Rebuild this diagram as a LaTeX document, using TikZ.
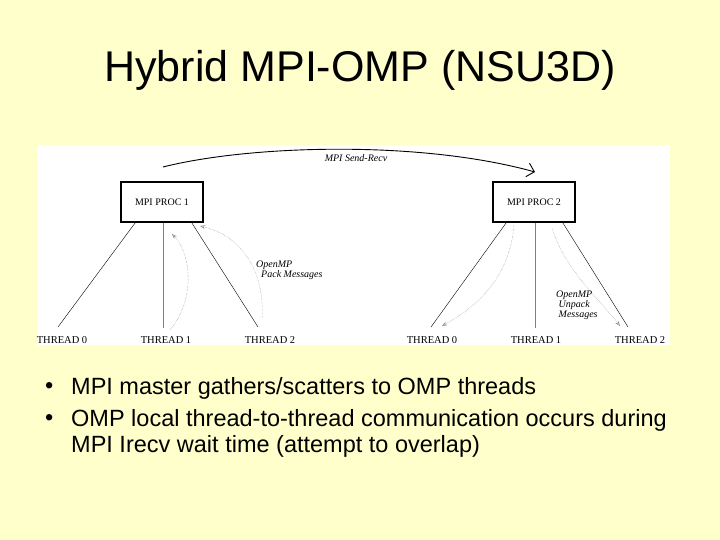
\documentclass[tikz,border=0pt]{standalone}
\usepackage{fontspec}
\usetikzlibrary{arrows.meta}
\setmainfont{Liberation Sans}
\newfontfamily\serif{Liberation Serif}
\begin{document}
\begin{tikzpicture}[x=1pt,y=-1pt,
 pbox/.style={draw,line width=1.6pt,fill=white,minimum width=82pt,minimum height=40pt,font=\serif\fontsize{10}{11}\selectfont},
 thr/.style={font=\serif\fontsize{10.5}{11}\selectfont,inner sep=0pt},
 lab/.style={font=\serif\itshape\fontsize{10}{11}\selectfont,align=left,inner sep=0pt},
 dots/.style={densely dotted,gray,->,>={Stealth[open,length=5pt]}},
 bul/.style={font=\fontsize{23.5}{26}\selectfont,anchor=west,inner sep=0pt,align=left}]
\fill[fill={rgb,255:red,255;green,255;blue,204}] (0,0) rectangle (720,540);
\useasboundingbox (0,0) rectangle (720,540);
\fill[white] (37,145) rectangle (670,345);
\node[font=\fontsize{43}{48}\selectfont] (title) at (360,70) {Hybrid MPI-OMP (NSU3D)};
\node[pbox] (p1) at (162,202) {MPI PROC 1};
\node[pbox] (p2) at (534,202) {MPI PROC 2};
\node[thr] (a0) at (62,340) {THREAD 0};
\node[thr] (a1) at (166,340) {THREAD 1};
\node[thr] (a2) at (270,340) {THREAD 2};
\node[thr] (b0) at (432,340) {THREAD 0};
\node[thr] (b1) at (536,340) {THREAD 1};
\node[thr] (b2) at (640,340) {THREAD 2};
\coordinate (a0t) at (58,327); \coordinate (a1t) at (163,328); \coordinate (a2t) at (258,327);
\coordinate (b0t) at (431,327); \coordinate (b1t) at (535,328); \coordinate (b2t) at (628,327);
\draw (p1.south west)++(15,0) -- (a0t);
\draw[gray] (p1.south)++(1,0) -- (a1t);
\draw (p1.south east)++(-12,0) -- (a2t);
\draw (p2.south west)++(14,0) -- (b0t);
\draw[gray] (p2.south)++(1,0) -- (b1t);
\draw (p2.south east)++(-13,0) -- (b2t);
\coordinate (s1) at (170,330); \coordinate (e1) at (172,234);
\coordinate (s2) at (262,318); \coordinate (e2) at (200,226);
\coordinate (s3) at (514,225); \coordinate (e3) at (442,326);
\coordinate (s4) at (552,228); \coordinate (e4) at (620,326);
\draw[dots] (s1) .. controls (195,300) and (192,255) .. (e1);
\draw[dots] (s2) .. controls (265,270) and (240,235) .. (e2);
\draw[dots] (s3) .. controls (510,275) and (480,305) .. (e3);
\draw[dots] (s4) .. controls (565,270) and (600,300) .. (e4);
\coordinate (m1) at (163,167); \coordinate (m2) at (535,172);
\draw[line width=0.9pt,->,>={Straight Barb[length=7pt]}] (m1) .. controls (250,145) and (420,140) .. (m2);
\node[lab] (send) at (356,158) {MPI Send-Recv};
\node[lab,anchor=west] (pack) at (256,270) {OpenMP\\[-1pt]\ \ Pack Messages};
\node[lab,anchor=west] (unpack) at (556,305) {OpenMP\\[-1pt]\ Unpack\\[-1pt]\ Messages};
\node[bul] (l1) at (45,388) {•};
\node[bul] (t1) at (71,388) {MPI master gathers/scatters to OMP threads};
\node[bul] (l2) at (45,420) {•};
\node[bul] (t2) at (71,420) {OMP local thread-to-thread communication occurs during};
\node[bul] (t3) at (71,446) {MPI Irecv wait time (attempt to overlap)};
\end{tikzpicture}
\end{document}
